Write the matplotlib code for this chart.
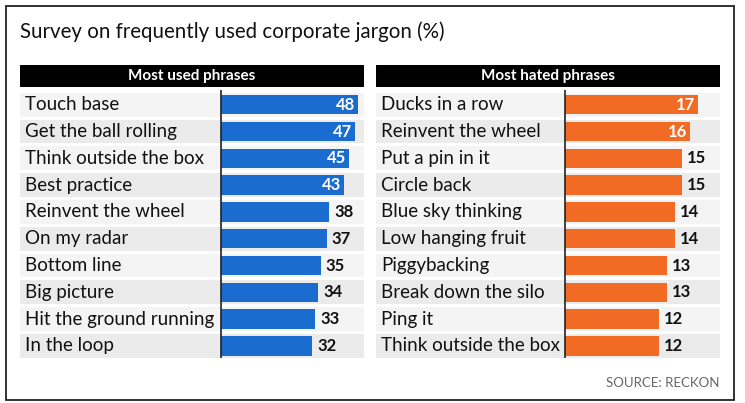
import matplotlib.pyplot as plt
from matplotlib.patches import Rectangle

used_phrases = ["Touch base", "Get the ball rolling", "Think outside the box", "Best practice",
                "Reinvent the wheel", "On my radar", "Bottom line", "Big picture",
                "Hit the ground running", "In the loop"]
used_values = [48, 47, 45, 43, 38, 37, 35, 34, 33, 32]

hated_phrases = ["Ducks in a row", "Reinvent the wheel", "Put a pin in it", "Circle back",
                 "Blue sky thinking", "Low hanging fruit", "Piggybacking", "Break down the silo",
                 "Ping it", "Think outside the box"]
hated_values = [17, 16, 15, 15, 14, 14, 13, 13, 12, 12]

W, H = 745, 403
FONT = "Lato"


def px_axes(fig, x, y, w, h):
    # pixel box (from top-left) -> figure fraction
    return fig.add_axes([x / W, 1 - (y + h) / H, w / W, h / H])


def panel(fig, x0, bar_x0, bar_w, title, phrases, values, color):
    width = 344
    # header
    hax = px_axes(fig, x0, 65, width, 22)
    hax.set_axis_off()
    hax.add_patch(Rectangle((0, 0), 1, 1, color="black", transform=hax.transAxes))
    hax.text(0.5, 0.5, title, color="white", ha="center", va="center",
             fontsize=11, fontweight="bold", family=FONT, transform=hax.transAxes)

    ax = px_axes(fig, x0, 90, width, 268)
    vmax = max(values)
    scale = bar_w / vmax  # px per unit
    xmin = -(bar_x0 - x0) / scale
    xmax = xmin + width / scale
    n = len(values)
    ys = list(range(n))
    bg = ["#f4f4f4" if i % 2 == 0 else "#ebebeb" for i in ys]
    ax.barh(ys, [xmax - xmin] * n, left=xmin, height=0.89, color=bg)
    ax.barh(ys, values, height=0.72, color=color)
    for i, (p, v) in enumerate(zip(phrases, values)):
        ax.text(xmin + 5 / scale, i, p, ha="left", va="center", fontsize=13.5,
                family=FONT, color="#111111")
        if v / vmax > 0.89:
            ax.text(v - 3 / scale, i, str(v), ha="right", va="center", fontsize=12,
                    fontweight="bold", family=FONT, color="white")
        else:
            ax.text(v + 5 / scale, i, str(v), ha="left", va="center", fontsize=12,
                    fontweight="bold", family=FONT, color="#111111")
    ax.axvline(0, ymin=0, ymax=1, color="#222222", lw=1.2)
    ax.set_xlim(xmin, xmax)
    ax.set_ylim(n - 0.55, -0.55)
    ax.set_axis_off()


def start():
    fig = plt.figure(figsize=(W / 100, H / 100), dpi=100)
    fig.patches.append(Rectangle((6 / W, 3 / H), 728 / W, 394 / H, fill=False,
                                 edgecolor="#222222", lw=1.3, transform=fig.transFigure))
    fig.text(20 / W, 1 - 32 / H, "Survey on frequently used corporate jargon (%)",
             ha="left", va="center", fontsize=14.8, family=FONT, color="#111111")
    panel(fig, 20, 221, 137, "Most used phrases", used_phrases, used_values, "#1a6ccf")
    panel(fig, 376, 565, 133, "Most hated phrases", hated_phrases, hated_values, "#f26b24")
    fig.text(720 / W, 1 - 383 / H, "SOURCE: RECKON", ha="right", va="center",
             fontsize=9.5, family=FONT, color="#666666")
    fig.savefig("out.png", dpi=100)


if __name__ == "__main__":
    start()
